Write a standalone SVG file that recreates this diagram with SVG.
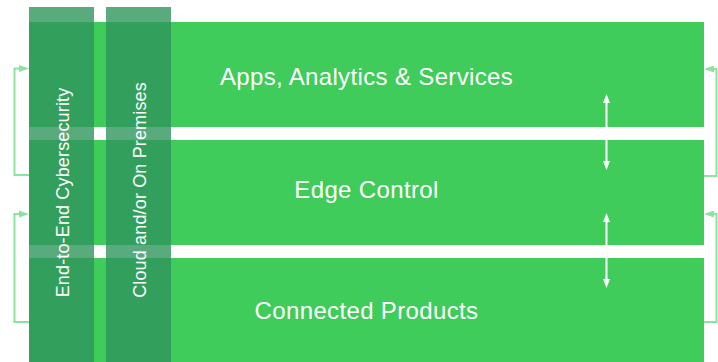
<svg xmlns="http://www.w3.org/2000/svg" width="718" height="362" viewBox="0 0 718 362">
  <style>
    .band { fill: #3fcc5a; }
    .pillar { fill: #2f955d; fill-opacity: 0.8; }
    .label { font-family: "Liberation Sans", Arial, sans-serif; font-size: 24px; letter-spacing: 0.35px; fill: #ffffff; text-anchor: middle; }
    .vlabel { font-family: "Liberation Sans", Arial, sans-serif; font-size: 18px; letter-spacing: 0.15px; fill: #ffffff; text-anchor: middle; }
    .loop { fill: none; stroke: #8de29d; stroke-width: 2; }
    .dual { fill: none; stroke: #ffffff; stroke-width: 2; }
  </style>
  <defs>
    <marker id="loopHead" viewBox="0 0 10 7" refX="3" refY="3.5" markerWidth="10" markerHeight="7" markerUnits="userSpaceOnUse" orient="auto">
      <path d="M0,0 L10,3.5 L0,7 z" fill="#8de29d"/>
    </marker>
    <marker id="dualHead" viewBox="0 0 9 7" refX="2" refY="3.5" markerWidth="9" markerHeight="7" markerUnits="userSpaceOnUse" orient="auto-start-reverse">
      <path d="M0,0 L9,3.5 L0,7 z" fill="#ffffff"/>
    </marker>
  </defs>

  <rect x="0" y="0" width="718" height="362" fill="#ffffff"/>

  <!-- layer bands -->
  <g id="apps-analytics-services">
    <rect class="band" x="29" y="22" width="675" height="105"/>
    <text class="label" x="366.5" y="84.5">Apps, Analytics &amp; Services</text>
  </g>
  <g id="edge-control">
    <rect class="band" x="29" y="140" width="675" height="105"/>
    <text class="label" x="366.5" y="197.5">Edge Control</text>
  </g>
  <g id="connected-products">
    <rect class="band" x="29" y="258" width="675" height="104"/>
    <text class="label" x="366.5" y="319">Connected Products</text>
  </g>

  <!-- cross-cutting pillars -->
  <g id="end-to-end-cybersecurity">
    <rect class="pillar" x="29" y="7" width="65" height="355"/>
    <text class="vlabel" transform="translate(69,192.5) rotate(-90)">End-to-End Cybersecurity</text>
  </g>
  <g id="cloud-on-premises">
    <rect class="pillar" x="106" y="7" width="65" height="355"/>
    <text class="vlabel" transform="translate(145.5,190) rotate(-90)">Cloud and/or On Premises</text>
  </g>

  <!-- connectors -->
  <g id="connectors">
    <path class="loop" d="M29,175 H14.5 V68.5 H22" marker-end="url(#loopHead)"/>
    <path class="loop" d="M29,322 H14.5 V214 H22" marker-end="url(#loopHead)"/>
    <path class="loop" d="M704,176 H716.5 V69 H711" marker-end="url(#loopHead)"/>
    <path class="loop" d="M704,322 H716.5 V214 H711" marker-end="url(#loopHead)"/>
    <path class="dual" d="M606.5,101 V163" marker-start="url(#dualHead)" marker-end="url(#dualHead)"/>
    <path class="dual" d="M606.5,220 V281" marker-start="url(#dualHead)" marker-end="url(#dualHead)"/>
  </g>
</svg>
